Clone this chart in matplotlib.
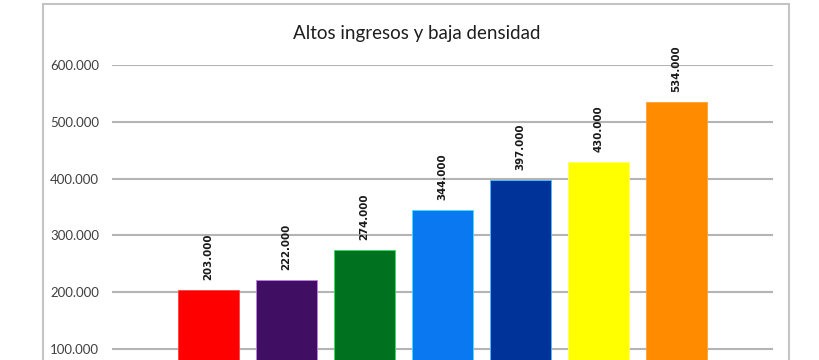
import matplotlib
matplotlib.use("Agg")
import matplotlib.pyplot as plt
from matplotlib.patches import Rectangle
from matplotlib.ticker import FuncFormatter

title = "Altos ingresos y baja densidad"
categories = ["A", "B", "C", "D", "E", "F", "G"]
values = [203000, 222000, 274000, 344000, 397000, 430000, 534000]
colors = ["#FF0000", "#400E62", "#00721F", "#0A78F0", "#00339A", "#FFFF00", "#FF8C00"]
edges = ["#FF4040", "#C080E8", "#30E060", "#40E0FF", "#40C0FF", "#FFFF60", "#FFA030"]
yticks = [100000, 200000, 300000, 400000, 500000, 600000]

W, H = 820, 360
fig = plt.figure(figsize=(W / 100, H / 100), dpi=100)
fig.patch.set_facecolor("white")

# chart frame (extends below the cropped image)
fig.patches.append(Rectangle((43 / W, -0.5), (789 - 43) / W, 1.5 - 4 / H,
                             transform=fig.transFigure, fill=False,
                             edgecolor="#C4C4C4", linewidth=1.5))

ax = fig.add_axes([112 / W, 0, (773 - 112) / W, (360 - 65) / H])
x = list(range(len(categories)))
ax.bar(x, values, width=0.78, color=colors, edgecolor=edges, linewidth=0.6, zorder=3)
ax.set_xlim(-1.237, 7.237)
ax.set_ylim(80634, 600000)
ax.set_yticks(yticks)
ax.yaxis.set_major_formatter(FuncFormatter(lambda v, p: f"{int(v):,}".replace(",", ".")))
ax.grid(axis="y", color="#B4B4B4", linewidth=1.5, zorder=0)
ax.set_axisbelow(True)
for s in ax.spines.values():
    s.set_visible(False)
ax.tick_params(axis="y", length=0, pad=9.4, labelsize=9.5, labelcolor="#404040")
ax.tick_params(axis="x", length=0, labelbottom=False)
for lab in ax.get_yticklabels():
    lab.set_family("Lato")

for xi, v in zip(x, values):
    ax.annotate(f"{v:,}".replace(",", "."), (xi, v), xytext=(0, 7.2),
                textcoords="offset points", rotation=90, ha="center", va="bottom",
                fontsize=7.4, fontweight="bold", color="#1A1A1A",
                family="DejaVu Sans", annotation_clip=False)

fig.text(417 / W, 1 - 33 / H, title, ha="center", va="center",
         fontsize=13.5, family="Lato", color="#1E1E1E")

fig.savefig("out.png", dpi=100)
